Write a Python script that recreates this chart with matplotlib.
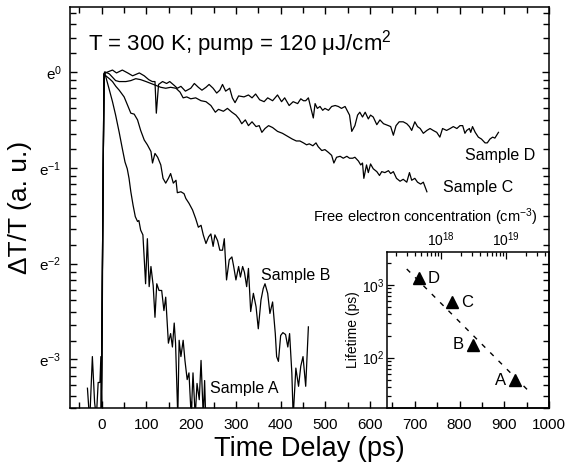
import numpy as np
import matplotlib
matplotlib.use("Agg")
import matplotlib.pyplot as plt
from matplotlib.ticker import FixedLocator, LogLocator, NullFormatter, MultipleLocator

plt.rcParams['font.family'] = ['Liberation Sans', 'DejaVu Sans']
plt.rcParams['mathtext.fontset'] = 'custom'
plt.rcParams['mathtext.rm'] = 'Liberation Sans'
plt.rcParams['mathtext.it'] = 'Liberation Sans:italic'
plt.rcParams['mathtext.default'] = 'regular'

# transient traces: time (ps) and ln(dT/T)
t_D = [-2, 5, 13, 24, 33, 46, 58, 69, 84, 95, 105, 113, 119, 122, 127, 136, 145, 152, 162, 169,
       177, 187, 199, 207, 216, 224, 233, 240, 249, 257, 264, 270, 277, 286, 292, 298, 306, 318, 328,
       336, 344, 353, 363, 371, 382, 393, 402, 409, 419, 428, 438, 445, 451, 456, 462, 473, 477, 482,
       488, 494, 499, 507, 514, 522, 529, 536, 544, 554, 559, 566, 572, 577, 583, 589, 596, 601, 607,
       615, 622, 630, 641, 646, 652, 658, 665, 674, 682, 688, 693, 700, 706, 712, 719, 727, 734, 741,
       749, 756, 762, 771, 779, 786, 794, 801, 807, 812, 816, 822, 825, 829, 835, 842, 849, 857, 862,
       868, 874, 879, 887]
ln_D = [-4.0, -0.02, 0.0, 0.02, -0.01, 0.02, -0.01, -0.04, -0.01, -0.04, -0.08, -0.10, -0.10, -0.43,
        -0.13, -0.10, -0.12, -0.10, -0.14, -0.17, -0.15, -0.20, -0.17, -0.12, -0.16, -0.19, -0.16,
        -0.13, -0.17, -0.22, -0.19, -0.13, -0.20, -0.17, -0.27, -0.32, -0.25, -0.26, -0.24, -0.27,
        -0.23, -0.29, -0.31, -0.27, -0.30, -0.24, -0.31, -0.27, -0.35, -0.31, -0.33, -0.28, -0.30,
        -0.30, -0.27, -0.48, -0.33, -0.38, -0.36, -0.40, -0.38, -0.40, -0.36, -0.35, -0.36, -0.38,
        -0.36, -0.45, -0.62, -0.56, -0.45, -0.42, -0.47, -0.42, -0.49, -0.45, -0.47, -0.55, -0.50,
        -0.54, -0.56, -0.57, -0.66, -0.56, -0.52, -0.52, -0.54, -0.57, -0.61, -0.52, -0.57, -0.59,
        -0.64, -0.61, -0.59, -0.61, -0.63, -0.68, -0.59, -0.61, -0.59, -0.57, -0.59, -0.56, -0.56,
        -0.64, -0.61, -0.59, -0.63, -0.57, -0.63, -0.68, -0.70, -0.74, -0.74, -0.70, -0.68, -0.69,
        -0.63]

t_C = [-2, 5, 8, 17, 31, 39, 54, 65, 76, 87, 99, 110, 121, 132, 143, 154, 166, 175, 182, 190, 199,
       210, 222, 233, 244, 254, 261, 272, 281, 291, 300, 307, 313, 321, 328, 336, 345, 352, 358, 365,
       373, 382, 393, 404, 415, 426, 435, 443, 451, 458, 464, 472, 479, 484, 492, 499, 507, 514, 519,
       525, 533, 540, 548, 554, 561, 566, 574, 579, 583, 586, 592, 596, 601, 607, 615, 621, 626, 633,
       641, 646, 652, 659, 667, 674, 682, 688, 693, 700, 706, 713, 719, 723, 727]
ln_C = [-4.0, -0.02, 0.0, -0.02, -0.09, -0.10, -0.10, -0.09, -0.07, -0.08, -0.10, -0.12, -0.14,
        -0.16, -0.17, -0.16, -0.17, -0.21, -0.27, -0.26, -0.28, -0.27, -0.30, -0.31, -0.35, -0.42,
        -0.39, -0.41, -0.38, -0.42, -0.45, -0.49, -0.54, -0.50, -0.56, -0.52, -0.57, -0.56, -0.63,
        -0.59, -0.56, -0.58, -0.62, -0.64, -0.67, -0.70, -0.72, -0.72, -0.74, -0.76, -0.75, -0.77,
        -0.74, -0.78, -0.82, -0.81, -0.84, -0.87, -0.95, -0.89, -0.88, -0.90, -0.88, -0.90, -0.90,
        -0.89, -0.93, -0.97, -0.95, -1.11, -0.97, -1.05, -0.96, -1.01, -1.04, -1.08, -1.04, -1.05,
        -1.03, -1.06, -1.04, -1.11, -1.14, -1.12, -1.15, -1.05, -1.13, -1.11, -1.15, -1.17, -1.15,
        -1.20, -1.25]

t_B = [-2, 5, 9, 17, 24, 31.5, 39, 50, 58, 65, 72.5, 80, 87, 95, 102, 110, 113.5, 119, 125, 132,
       137, 143, 149, 154, 160, 166, 169, 177, 184, 188, 195, 203, 210, 216, 222, 227, 233, 239, 244,
       249, 253, 259, 264, 270, 274, 279, 285, 291, 295, 300, 306, 310, 315, 319, 324, 328, 333, 339,
       345, 350, 356, 361, 365, 371, 376, 382, 388, 391, 395, 400, 405, 411, 416, 420, 425, 428, 434,
       440, 445, 450, 456, 462]
ln_B = [-4.0, -0.02, -0.04, -0.07, -0.10, -0.15, -0.19, -0.26, -0.35, -0.43, -0.44, -0.50, -0.61,
        -0.71, -0.76, -0.83, -0.95, -0.85, -0.89, -0.97, -1.11, -1.16, -1.11, -1.06, -1.16, -1.13,
        -1.26, -1.25, -1.27, -1.32, -1.37, -1.44, -1.53, -1.62, -1.60, -1.70, -1.79, -1.72, -1.69,
        -1.82, -1.70, -1.76, -1.86, -1.86, -1.74, -2.17, -1.96, -1.93, -2.03, -2.17, -2.03, -2.14,
        -2.03, -2.09, -2.24, -2.05, -2.50, -2.31, -2.45, -2.68, -2.38, -2.26, -2.21, -2.31, -2.52,
        -2.40, -2.73, -2.97, -3.02, -2.75, -2.72, -2.74, -2.87, -2.73, -3.14, -3.60, -3.09, -3.28,
        -3.07, -2.97, -3.28, -2.66]

t_A = [-32, -27, -21, -16, -12, -8, -4, -2, 0, 3, 6, 9, 16, 24, 31, 39, 46, 52, 57, 61, 65, 70, 75,
       80, 83, 87, 92, 95, 98, 102, 106, 110, 115, 119, 123, 128, 134, 139, 143, 149, 154, 158, 162,
       165, 170, 173, 177, 182, 186, 191, 195, 200, 204, 209, 213, 218, 222, 227, 230, 233]
ln_A = [-3.30, -3.65, -2.97, -3.45, -3.60, -3.24, -3.24, -2.97, -3.60, -1.0, 0.0, -0.05, -0.17, -0.31,
        -0.45, -0.63, -0.80, -0.94, -1.01, -1.11, -1.25, -1.39, -1.51, -1.56, -1.55, -1.65, -1.70,
        -1.95, -2.21, -1.74, -2.24, -2.03, -2.23, -2.56, -2.21, -2.28, -2.28, -2.49, -2.35, -2.83,
        -2.73, -2.87, -2.62, -2.83, -3.60, -2.80, -2.97, -2.80, -3.01, -3.21, -3.14, -3.60, -3.14,
        -3.60, -3.25, -3.42, -3.01, -3.60, -3.22, -3.70]

sample_names = ["Sample A", "Sample B", "Sample C", "Sample D"]
label_t = [242, 357, 764, 812]
label_ln = [-3.30, -2.12, -1.21, -0.87]

# inset: lifetime vs free electron concentration
inset_names = ["A", "B", "C", "D"]
conc = [1.39e19, 3.07e18, 1.46e18, 4.58e17]
lifetime = [49, 150, 583, 1248]
fit_conc = [2.97e17, 2.48e19]
fit_life = [1660, 31.6]

fig = plt.figure(figsize=(5.67, 4.72), dpi=100)
ax = fig.add_axes([70/567, 64/472, 479/567, 401/472])

for t, ln in [(t_D, ln_D), (t_C, ln_C), (t_B, ln_B), (t_A, ln_A)]:
    ax.plot(t, np.exp(ln), color="black", lw=0.9)

ax.set_yscale("log", base=np.e)
ax.set_xlim(-71, 1000)
ax.set_ylim(0.0300, 1.97)

ax.xaxis.set_major_locator(MultipleLocator(100))
ax.xaxis.set_minor_locator(MultipleLocator(50))
major_exp = [-3, -2, -1, 0]
ax.yaxis.set_major_locator(FixedLocator(np.exp(major_exp)))
ax.set_yticklabels(["e$^{%s}$" % (str(k).replace("-", "\u2212")) for k in major_exp])
minor = []
for k in range(-4, 1):
    lo, hi = np.exp(k), np.exp(k + 1)
    minor += [lo + (hi - lo) * j / 8 for j in range(1, 8)]
ax.yaxis.set_minor_locator(FixedLocator(minor))
ax.yaxis.set_minor_formatter(NullFormatter())

ax.tick_params(which="both", direction="in", top=True, right=True, labelsize=11, width=1.0)
ax.tick_params(which="major", length=5)
ax.tick_params(which="minor", length=4)
ax.tick_params(axis="x", pad=7)
ax.tick_params(axis="y", pad=6)
for s in ax.spines.values():
    s.set_linewidth(1.1)

ax.set_xlabel("Time Delay (ps)", fontsize=19.5, labelpad=3)
ax.set_ylabel("\u0394T/T (a. u.)", fontsize=19, labelpad=5)

ax.text(-30, np.exp(0.30), "T = 300 K; pump = 120 \u03bcJ/cm$^2$", fontsize=16, ha="left", va="center")
for name, t, ln in zip(sample_names, label_t, label_ln):
    ax.text(t, np.exp(ln), name, fontsize=11.5, ha="left", va="center")

# inset
axi = fig.add_axes([387/567, 64/472, 162/567, 156/472])
axi.set_facecolor("none")
axi.set_xscale("log")
axi.set_yscale("log")
axi.set_xlim(10**17.169, 10**19.66)
axi.set_ylim(10**1.308, 10**3.454)
axi.plot(fit_conc, fit_life, color="black", lw=1.0, ls=(0, (3.5, 5)))
axi.plot(conc, lifetime, ls="none", marker="^", color="black", ms=8)
for name, n, tau in zip(inset_names, conc, lifetime):
    if name in ("C", "D"):
        axi.annotate(name, (n, tau), xytext=(6.5, 0), textcoords="offset points",
                     ha="left", va="center", fontsize=12)
    else:
        axi.annotate(name, (n, tau), xytext=(-6.5, 0), textcoords="offset points",
                     ha="right", va="center", fontsize=12)

axi.xaxis.tick_top()
axi.xaxis.set_major_locator(LogLocator(base=10, numticks=10))
axi.xaxis.set_minor_locator(LogLocator(base=10, subs=np.arange(2, 10), numticks=10))
axi.xaxis.set_minor_formatter(NullFormatter())
axi.yaxis.set_major_locator(LogLocator(base=10, numticks=10))
axi.yaxis.set_minor_locator(LogLocator(base=10, subs=np.arange(2, 10), numticks=10))
axi.yaxis.set_minor_formatter(NullFormatter())
axi.tick_params(which="both", direction="in", top=True, bottom=False, left=True, right=False,
                labeltop=True, labelbottom=False, labelsize=10, width=0.9, pad=2)
axi.tick_params(which="major", length=5)
axi.tick_params(which="minor", length=3)
for s in axi.spines.values():
    s.set_linewidth(1.1)
axi.set_ylabel("Lifetime (ps)", fontsize=10, labelpad=1)
axi.text(0.235, 1.22, "Free electron concentration (cm$^{-3}$)", transform=axi.transAxes,
         ha="center", va="center", fontsize=10.5)

fig.savefig("out.png", dpi=100)
